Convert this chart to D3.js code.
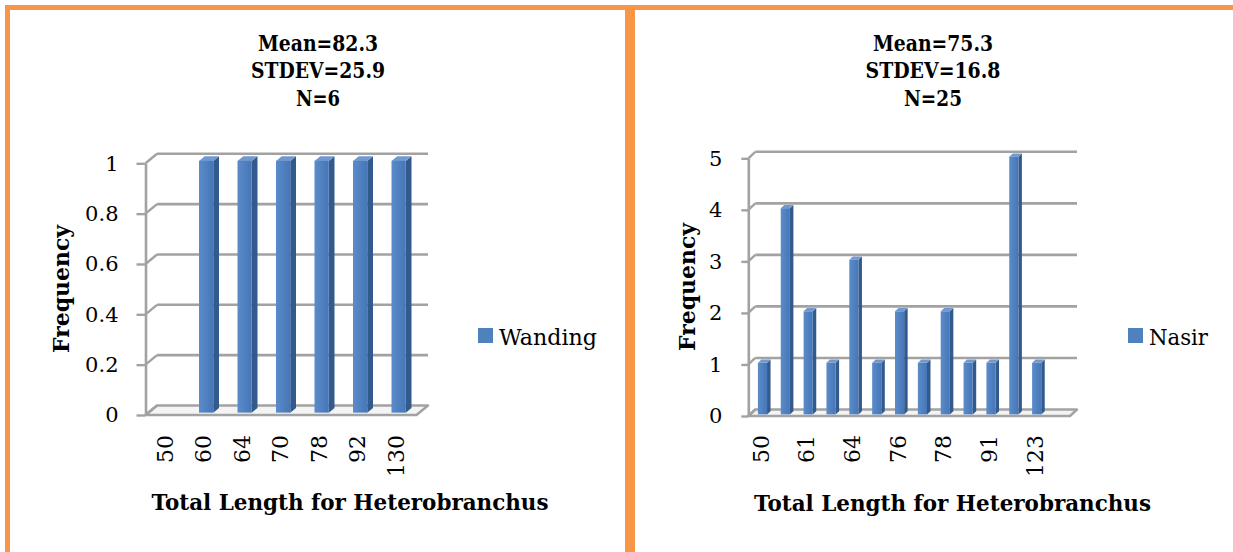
<!DOCTYPE html>
<html>
<head>
<meta charset="utf-8">
<script src="https://cdn.jsdelivr.net/npm/d3@7"></script>
<style>
  html, body { margin: 0; padding: 0; background: #ffffff; }
  svg { display: block; }
  text { font-family: "DejaVu Serif", "Liberation Serif", serif; fill: #000; }
</style>
</head>
<body>
<svg id="chart" width="1233" height="552"></svg>
<script>
// ---- data ----
const wandingCategories = ["50", "60", "64", "70", "78", "92", "130"];
const wandingFrequency = [0, 1, 1, 1, 1, 1, 1];
const wandingYTicks = [0, 0.2, 0.4, 0.6, 0.8, 1];
const wandingStats = ["Mean=82.3", "STDEV=25.9", "N=6"];

const nasirCategories = ["50", "55", "61", "62", "64", "70", "76", "77", "78", "85", "91", "96", "123"];
const nasirFrequency = [1, 4, 2, 1, 3, 1, 2, 1, 2, 1, 1, 5, 1];
const nasirYTicks = [0, 1, 2, 3, 4, 5];
const nasirStats = ["Mean=75.3", "STDEV=16.8", "N=25"];

const xTitle = "Total Length for Heterobranchus";
const yTitle = "Frequency";

// ---- styling ----
const ORANGE = "#F79646";
const GRID = "#A2A2A2";
const FRONT = "#4F81BD";
const SIDE = "#335A8C";
const TOP = "#7199D0";

const svg = d3.select("#chart");

// gradient for bar fronts
const defs = svg.append("defs");
const g1 = defs.append("linearGradient").attr("id", "barFront").attr("x1", 0).attr("x2", 1).attr("y1", 0).attr("y2", 0);
g1.append("stop").attr("offset", "0%").attr("stop-color", "#5A8BCB");
g1.append("stop").attr("offset", "100%").attr("stop-color", "#4676B5");

// panel borders
svg.append("rect").attr("x", 632.5).attr("y", 7.5).attr("width", 700).attr("height", 700)
  .attr("fill", "none").attr("stroke", ORANGE).attr("stroke-width", 5);
svg.append("rect").attr("x", 7.5).attr("y", 7.5).attr("width", 620).attr("height", 700)
  .attr("fill", "none").attr("stroke", ORANGE).attr("stroke-width", 5);

function drawPanel(cfg) {
  const g = svg.append("g");
  const { axisX, y0, yTop, dx, dy, backX1, bandStart, pitch, barFrac } = cfg;
  const a = 0.25, b = 0.75;

  const y = d3.scaleLinear().domain([0, cfg.yTicks[cfg.yTicks.length - 1]]).range([y0, yTop]);
  const x = d3.scaleBand().domain(cfg.categories)
    .range([bandStart, bandStart + pitch * cfg.categories.length]).paddingInner(0).paddingOuter(0);

  // stats title
  cfg.stats.forEach((s, i) => {
    g.append("text").attr("x", cfg.titleX).attr("y", 50.7 + i * 27.6)
      .attr("text-anchor", "middle").attr("font-weight", "bold").attr("font-size", 23)
      .attr("textLength", cfg.statsWidths[i]).attr("lengthAdjust", "spacingAndGlyphs")
      .text(s);
  });

  // floor
  const floorFrontEnd = backX1 - dx;
  g.append("path")
    .attr("d", `M${axisX},${y0} L${floorFrontEnd},${y0} L${backX1},${y0 + dy} L${axisX + dx},${y0 + dy} Z`)
    .attr("fill", "#F4F4F4").attr("stroke", GRID).attr("stroke-width", 2.4).attr("stroke-linejoin", "round");

  // back wall gridlines and side wall diagonals
  cfg.yTicks.forEach(v => {
    if (v !== 0) {
      g.append("line").attr("x1", axisX + dx).attr("x2", backX1)
        .attr("y1", y(v) + dy).attr("y2", y(v) + dy)
        .attr("stroke", GRID).attr("stroke-width", 2.6);
    }
    g.append("line").attr("x1", axisX).attr("y1", y(v)).attr("x2", axisX + dx).attr("y2", y(v) + dy)
      .attr("stroke", GRID).attr("stroke-width", 2.4);
  });

  // value axis
  const yAxis = d3.axisLeft(y).tickValues(cfg.yTicks).tickFormat(d3.format("~g"))
    .tickSize(cfg.tickLen).tickSizeOuter(0).tickPadding(cfg.tickPad);
  const ya = g.append("g").attr("transform", `translate(${axisX},0)`).call(yAxis);
  ya.select(".domain").attr("stroke", GRID).attr("stroke-width", 2.6);
  ya.selectAll(".tick line").attr("stroke", GRID).attr("stroke-width", 2.4);
  ya.selectAll(".tick text").attr("font-size", 21).attr("fill", "#000");

  // bars
  const w = pitch * barFrac;
  const depthX = (b - a) * dx, depthY = (b - a) * dy;
  const bars = g.append("g").selectAll("g").data(cfg.values.map((v, i) => ({ v, c: cfg.categories[i] })).filter(d => d.v > 0))
    .join("g");
  bars.each(function (d) {
    const cx = x(d.c) + x.bandwidth() / 2 + a * dx;
    const xL = cx - w / 2, xR = cx + w / 2;
    const yT = y(d.v) + a * dy, yB = y(0) + a * dy;
    const s = d3.select(this);
    s.append("path").attr("d", `M${xR},${yT} L${xR + depthX},${yT + depthY} L${xR + depthX},${yB + depthY} L${xR},${yB} Z`)
      .attr("fill", SIDE);
    s.append("path").attr("d", `M${xL},${yT} L${xR},${yT} L${xR + depthX},${yT + depthY} L${xL + depthX},${yT + depthY} Z`)
      .attr("fill", TOP);
    s.append("rect").attr("x", xL).attr("y", yT).attr("width", w).attr("height", yB - yT)
      .attr("fill", "url(#barFront)");
  });

  // category labels
  const shown = cfg.categories.filter((c, i) => i % cfg.labelEvery === 0);
  g.append("g").selectAll("text").data(shown).join("text")
    .attr("transform", d => `translate(${x(d) + x.bandwidth() / 2},${cfg.labelTop}) rotate(-90)`)
    .attr("text-anchor", "end").attr("dy", "0.36em").attr("font-size", 22)
    .text(d => d);

  // axis titles
  g.append("text").attr("x", cfg.xTitleX).attr("y", cfg.xTitleY)
    .attr("text-anchor", "middle").attr("font-weight", "bold").attr("font-size", 23)
    .attr("textLength", 397).attr("lengthAdjust", "spacingAndGlyphs")
    .text(xTitle);
  g.append("text").attr("transform", `translate(${cfg.yTitleX},${cfg.yTitleY}) rotate(-90)`)
    .attr("text-anchor", "middle").attr("font-weight", "bold").attr("font-size", 23)
    .attr("textLength", 128).attr("lengthAdjust", "spacingAndGlyphs")
    .text(yTitle);

  // legend
  g.append("rect").attr("x", cfg.legendX).attr("y", 328).attr("width", 15).attr("height", 15).attr("fill", FRONT);
  g.append("text").attr("x", cfg.legendX + 21).attr("y", 345).attr("font-size", 23)
    .attr("textLength", cfg.legendWidth).attr("lengthAdjust", "spacingAndGlyphs")
    .text(cfg.legend);
}

drawPanel({
  categories: wandingCategories, values: wandingFrequency, yTicks: wandingYTicks,
  stats: wandingStats, statsWidths: [120, 134, 44], titleX: 318,
  axisX: 145.5, y0: 415, yTop: 163.3, dx: 11.5, dy: -9.5, backX1: 428,
  bandStart: 145.5, pitch: 38.5, barFrac: 0.37, tickLen: 9, tickPad: 18,
  labelEvery: 1, labelTop: 435,
  xTitleX: 350, xTitleY: 510, yTitleX: 69, yTitleY: 289,
  legend: "Wanding", legendX: 478, legendWidth: 98
});

drawPanel({
  categories: nasirCategories, values: nasirFrequency, yTicks: nasirYTicks,
  stats: nasirStats, statsWidths: [120, 135, 58], titleX: 933,
  axisX: 748.3, y0: 416, yTop: 158.3, dx: 7, dy: -6.5, backX1: 1077,
  bandStart: 749.3, pitch: 22.85, barFrac: 0.4, tickLen: 7, tickPad: 19,
  labelEvery: 2, labelTop: 435,
  xTitleX: 952.5, xTitleY: 511, yTitleX: 695, yTitleY: 287,
  legend: "Nasir", legendX: 1128, legendWidth: 59
});
</script>
</body>
</html>
